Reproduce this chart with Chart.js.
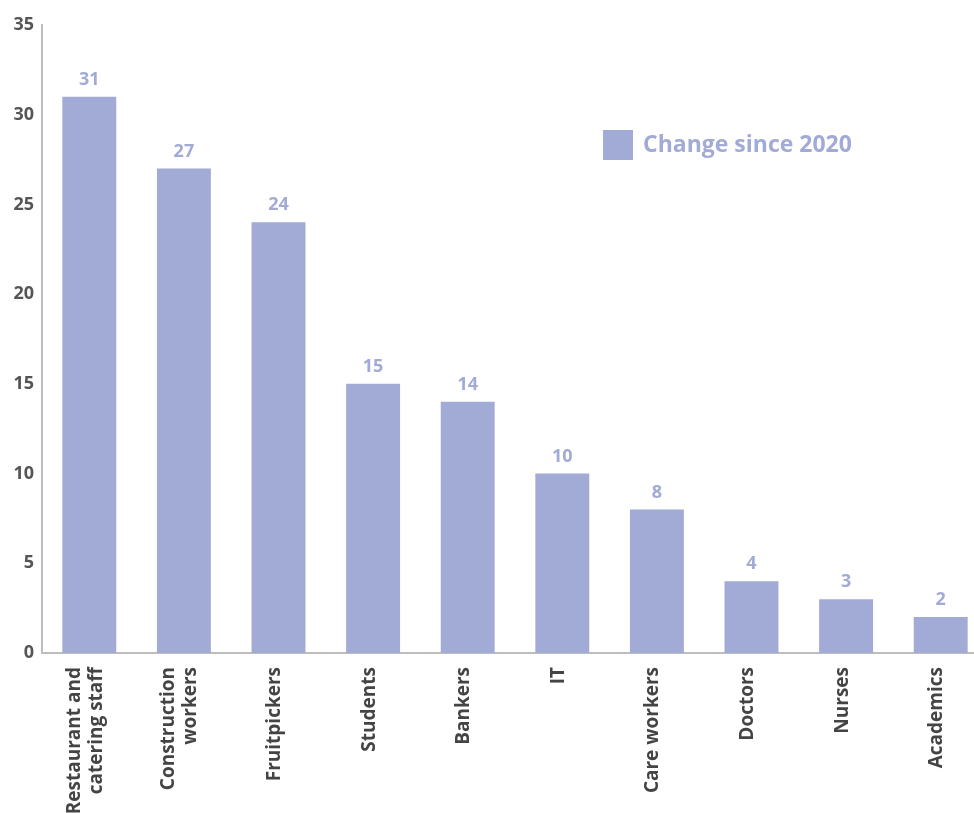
<!DOCTYPE html>
<html>
<head>
<meta charset="utf-8">
<script src="https://cdn.jsdelivr.net/npm/chart.js@4.4.1/dist/chart.umd.min.js"></script>
<style>
    html, body { margin: 0; padding: 0; background: #fff; overflow: hidden; }
    #wrap { width: 988px; height: 813px; }
</style>
</head>
<body>
<div id="wrap"><canvas id="chart"></canvas></div>
<script>
const categories = [
    ['Restaurant and', 'catering staff'],
    ['Construction', 'workers'],
    'Fruitpickers',
    'Students',
    'Bankers',
    'IT',
    'Care workers',
    'Doctors',
    'Nurses',
    'Academics'
]
const changeValues = [31, 27, 24, 15, 14, 10, 8, 4, 3, 2]
const seriesName = 'Change since 2020'

const barColor = '#a2aad6'
const fontFamily = "'Open Sans', 'Noto Sans', sans-serif"

// value labels above each bar
const valueLabels = {
    id: 'valueLabels',
    afterDatasetsDraw(chart) {
        const ctx = chart.ctx
        const meta = chart.getDatasetMeta(0)
        ctx.save()
        ctx.font = `700 18px ${fontFamily}`
        ctx.fillStyle = barColor
        ctx.textAlign = 'center'
        ctx.textBaseline = 'bottom'
        meta.data.forEach((bar, i) => {
            ctx.fillText(String(changeValues[i]), bar.x, bar.y - 8)
        })
        ctx.restore()
    }
}

// vertical category labels, multi-line blocks centred under each bar
const categoryLabels = {
    id: 'categoryLabels',
    afterDraw(chart) {
        const ctx = chart.ctx
        const xScale = chart.scales.x
        const top = xScale.top + 14
        const lineHeight = 22
        ctx.save()
        ctx.font = `700 19px ${fontFamily}`
        ctx.fillStyle = '#444'
        ctx.textAlign = 'right'
        ctx.textBaseline = 'middle'
        categories.forEach((label, i) => {
            const lines = Array.isArray(label) ? label : [label]
            const center = xScale.getPixelForTick(i) - 4
            lines.forEach((line, j) => {
                const x = center + (j - (lines.length - 1) / 2) * lineHeight
                ctx.save()
                ctx.translate(x, top)
                ctx.rotate(-Math.PI / 2)
                ctx.fillText(line, 0, 0)
                ctx.restore()
            })
        })
        ctx.restore()
    }
}

// legend drawn inside the plot area, upper right
const insideLegend = {
    id: 'insideLegend',
    afterDraw(chart) {
        const ctx = chart.ctx
        const x = 603, y = 130
        ctx.save()
        ctx.fillStyle = barColor
        ctx.fillRect(x, y, 30, 30)
        ctx.font = `700 23px ${fontFamily}`
        ctx.textAlign = 'left'
        ctx.textBaseline = 'middle'
        ctx.fillText(chart.data.datasets[0].label, x + 40, y + 15)
        ctx.restore()
    }
}

new Chart('chart', {
    type: 'bar',
    data: {
        labels: categories,
        datasets: [{
            label: seriesName,
            data: changeValues,
            backgroundColor: barColor,
            barPercentage: 0.57,
            categoryPercentage: 1
        }]
    },
    options: {
        responsive: true,
        maintainAspectRatio: false,
        animation: false,
        layout: { padding: { top: 25, left: 0, right: 0, bottom: 0 } },
        plugins: {
            legend: { display: false },
            tooltip: { enabled: false }
        },
        scales: {
            x: {
                grid: { display: false, drawTicks: false },
                border: { color: '#bdbdbd', width: 2 },
                ticks: { display: false },
                afterFit(scale) { scale.height = 160 }
            },
            y: {
                min: 0,
                max: 35,
                grid: { display: false, drawTicks: false },
                border: { color: '#bdbdbd', width: 2 },
                ticks: {
                    stepSize: 5,
                    padding: 8,
                    color: '#555',
                    font: { family: fontFamily, size: 18, weight: '700' }
                },
                afterFit(scale) { scale.width = 42 }
            }
        }
    },
    plugins: [valueLabels, categoryLabels, insideLegend]
})
</script>
</body>
</html>
